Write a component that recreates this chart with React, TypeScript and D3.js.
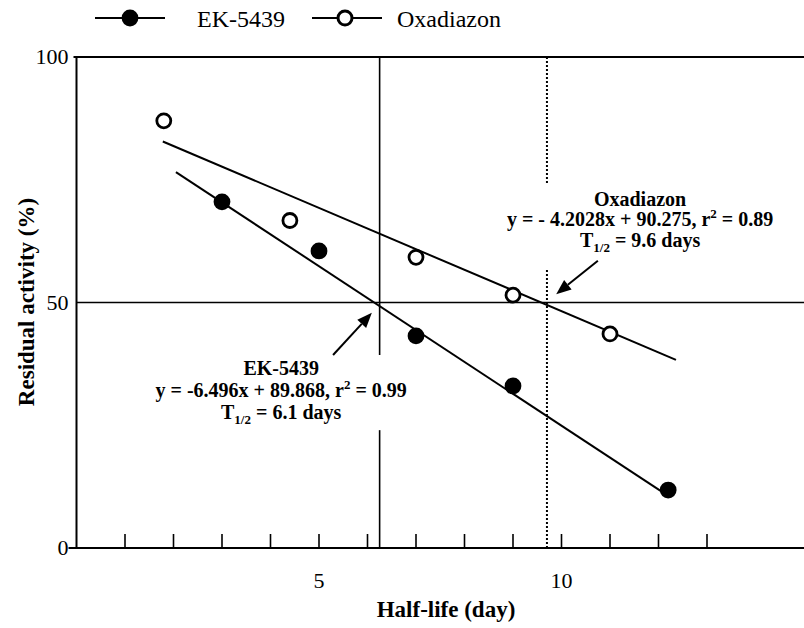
import React from "react";
import * as d3 from "d3";

// ---- data ----
const ekX = [3, 5, 7, 9, 12.2];
const ekY = [70.5, 60.5, 43.2, 33.0, 11.8];
const oxaX = [1.8, 4.4, 7, 9, 11];
const oxaY = [87.0, 66.7, 59.2, 51.5, 43.6];

const ekFit = { slope: -6.496, intercept: 89.868, from: 2.05, to: 12.2 };
const oxaFit = { slope: -4.2028, intercept: 90.275, from: 1.78, to: 12.36 };

const ekHalf = 6.25;
const oxaHalf = 9.7;
const ekGap = [39.3, 24.0];
const oxaGap = [74.3, 56.6];

const xTicks = [1, 2, 3, 4, 5, 6, 7, 8, 9, 10, 11, 12, 13];
const xTickLabels = [5, 10];
const yTickLabels = [0, 50, 100];

const seriesNames = ["EK-5439", "Oxadiazon"];
const ekLines = ["EK-5439", "y = -6.496x + 89.868, r", "= 0.99", "6.1 days"];
const oxaLines = ["Oxadiazon", "y = - 4.2028x + 90.275, r", "= 0.89", "9.6 days"];

const W = 804;
const H = 628;
const FF = { fontFamily: "Times New Roman" };

export default function App() {
  const x = d3.scaleLinear().domain([0, 15]).range([76.5, 804]);
  const y = d3.scaleLinear().domain([0, 100]).range([548, 57]);

  const fitPath = (f: typeof ekFit) =>
    d3.line<number>().x((d) => x(d)).y((d) => y(f.slope * d + f.intercept))([f.from, f.to]) as string;

  const x0 = x(0);
  const y0 = y(0);
  const y100 = y(100);

  const arrow = (x1: number, y1: number, x2: number, y2: number) => {
    const px1 = x(x1), py1 = y(y1), px2 = x(x2), py2 = y(y2);
    const ang = Math.atan2(py2 - py1, px2 - px1);
    const L = 15, Wd = 6;
    const bx = px2 - L * Math.cos(ang), by = py2 - L * Math.sin(ang);
    const p1 = [bx + Wd * Math.sin(ang), by - Wd * Math.cos(ang)];
    const p2 = [bx - Wd * Math.sin(ang), by + Wd * Math.cos(ang)];
    return (
      <g>
        <line x1={px1} y1={py1} x2={bx} y2={by} stroke="#000" strokeWidth={2} />
        <polygon points={`${px2},${py2} ${p1[0]},${p1[1]} ${p2[0]},${p2[1]}`} fill="#000" />
      </g>
    );
  };

  const annot = (lines: string[], cx: number, cy: number, dys: number[]) => {
    const px = x(cx);
    const py = y(cy);
    return (
      <g fontWeight="bold" fontSize={20} textAnchor="middle" fill="#000">
        <text x={px} y={py} style={FF}>{lines[0]}</text>
        <text x={px} y={py + dys[0]} style={FF}>
          {lines[1]}
          <tspan fontSize={13} dy={-8}>2</tspan>
          <tspan dy={8}> {lines[2]}</tspan>
        </text>
        <text x={px} y={py + dys[1]} style={FF}>
          T<tspan fontSize={13} dy={5}>1/2</tspan>
          <tspan dy={-5}> = {lines[3]}</tspan>
        </text>
      </g>
    );
  };

  return (
    <div style={{ position: "fixed", left: 0, top: 0 }}>
      <svg width={W} height={H} style={{ display: "block", background: "#fff" }}>
        {/* frame / axes */}
        <line x1={x0} y1={y100 - 1} x2={x0} y2={y0 + 1} stroke="#000" strokeWidth={2} />
        <line x1={x0 - 3} y1={y100} x2={W} y2={y100} stroke="#000" strokeWidth={2} />
        <line x1={x0 - 8} y1={y0} x2={W} y2={y0} stroke="#000" strokeWidth={2} />
        <line x1={x0} y1={y(50)} x2={W} y2={y(50)} stroke="#000" strokeWidth={1.6} />

        {/* x ticks */}
        {xTicks.map((t) => (
          <line key={t} x1={x(t)} y1={y0} x2={x(t)} y2={y0 - 14} stroke="#000" strokeWidth={1.6} />
        ))}
        {xTickLabels.map((t) => (
          <text key={t} x={x(t)} y={588} style={FF} fontSize={22} textAnchor="middle">
            {t}
          </text>
        ))}
        {yTickLabels.map((t) => (
          <text key={t} x={x0 - 8} y={y(t) + 7} style={FF} fontSize={22} textAnchor="end">
            {t}
          </text>
        ))}

        {/* axis titles */}
        <text x={446} y={617} style={FF} fontWeight="bold" fontSize={23} textAnchor="middle">
          Half-life (day)
        </text>
        <text transform="translate(34,302) rotate(-90)" style={FF} fontWeight="bold" fontSize={23} textAnchor="middle">
          Residual activity (%)
        </text>

        {/* half-life vertical lines */}
        <line x1={x(ekHalf)} y1={y(100)} x2={x(ekHalf)} y2={y(ekGap[0])} stroke="#000" strokeWidth={1.6} />
        <line x1={x(ekHalf)} y1={y(ekGap[1])} x2={x(ekHalf)} y2={y(0)} stroke="#000" strokeWidth={1.6} />
        <line x1={x(oxaHalf)} y1={y(100)} x2={x(oxaHalf)} y2={y(oxaGap[0])} stroke="#000" strokeWidth={2} strokeDasharray="2,2" />
        <line x1={x(oxaHalf)} y1={y(oxaGap[1])} x2={x(oxaHalf)} y2={y(0)} stroke="#000" strokeWidth={2} strokeDasharray="2,2" />

        {/* regression lines */}
        <path d={fitPath(ekFit)} stroke="#000" strokeWidth={2} fill="none" />
        <path d={fitPath(oxaFit)} stroke="#000" strokeWidth={2} fill="none" />

        {/* points */}
        {ekX.map((v, i) => (
          <circle key={"e" + i} cx={x(v)} cy={y(ekY[i])} r={8.4} fill="#000" />
        ))}
        {oxaX.map((v, i) => (
          <circle key={"o" + i} cx={x(v)} cy={y(oxaY[i])} r={7} fill="#fff" stroke="#000" strokeWidth={2.8} />
        ))}

        {/* annotations */}
        {arrow(5.29, 39.3, 6.09, 47.9)}
        {arrow(10.75, 58.5, 9.89, 51.7)}
        {annot(ekLines, 4.22, 35.2, [22, 44])}
        {annot(oxaLines, 11.62, 69.65, [20, 41])}

        {/* legend */}
        <g>
          <line x1={95} y1={18} x2={165} y2={18} stroke="#000" strokeWidth={2} />
          <circle cx={130} cy={18} r={8.4} fill="#000" />
          <text x={197} y={26.5} style={FF} fontSize={24}>{seriesNames[0]}</text>
          <line x1={312} y1={18} x2={382} y2={18} stroke="#000" strokeWidth={2} />
          <circle cx={345} cy={18} r={7} fill="#fff" stroke="#000" strokeWidth={3} />
          <text x={397} y={26.5} style={FF} fontSize={24}>{seriesNames[1]}</text>
        </g>
      </svg>
    </div>
  );
}
